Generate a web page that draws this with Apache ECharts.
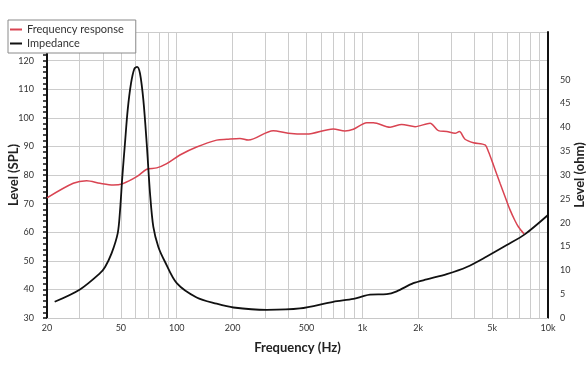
<!DOCTYPE html>
<html>
<head>
<meta charset="utf-8">
<script src="https://cdn.jsdelivr.net/npm/echarts@6/dist/echarts.min.js"></script>
<style>
html,body{margin:0;padding:0;background:#fff;}
#chart{width:588px;height:372px;}
</style>
</head>
<body>
<div id="chart"></div>
<script>
// Frequency response (SPL)
const frFreq = [20, 27.7, 32.7, 38.6, 45.5, 50.9, 60.9, 68.9, 78, 88.3, 104, 128, 164, 186, 219, 243, 331, 399, 501, 697, 806, 894, 1056, 1146, 1410, 1629, 1922, 2316, 2566, 2848, 3157, 3330, 3573, 3963, 4581, 4773, 5083, 5517, 5871, 6245, 6643, 6925, 7431];
const frLevel = [72, 77.1, 78, 77.1, 76.5, 76.9, 79.4, 82, 82.5, 84, 87, 89.8, 92.2, 92.5, 92.8, 92.2, 95.5, 94.6, 94.3, 96.1, 95.4, 96, 98.3, 98.3, 96.7, 97.7, 96.9, 98.1, 95.5, 95.2, 94.6, 95.2, 92.5, 91.3, 90.5, 88.2, 83.5, 77.1, 72.4, 67.8, 64, 61.9, 59.4];
// Impedance (ohm)
const zFreq = [22, 30.1, 38.6, 41.1, 44.6, 48.1, 49.5, 50.9, 52.6, 54.4, 56.7, 59.1, 61.1, 63.4, 66.1, 68.9, 71.8, 74.8, 79.6, 86.4, 100, 128, 164, 202, 305, 461, 697, 894, 1012, 1100, 1353, 1531, 1882, 2222, 2848, 3651, 4677, 5997, 7527, 10000];
const zOhm = [3.4, 6.0, 9.4, 10.7, 13.6, 17.8, 22.6, 29.6, 36.6, 43.6, 49.2, 52.3, 52.7, 51.3, 45.7, 36.6, 26.1, 19.1, 14.9, 11.8, 7.3, 4.3, 3.0, 2.2, 1.7, 2.0, 3.4, 4.0, 4.6, 4.9, 5.0, 5.6, 7.3, 8.1, 9.2, 10.7, 12.9, 15.3, 17.6, 21.6];
// Axis ticks / grid
const xTickLabels = [20, 50, 100, 200, 500, 1000, 2000, 5000, 10000];
const xGridFreqs = [30, 40, 50, 60, 70, 80, 90, 100, 200, 300, 400, 500, 600, 700, 800, 900, 1000, 2000, 3000, 4000, 5000, 6000, 7000, 8000, 9000];
const seriesNames = ['Frequency response', 'Impedance'];

const FONT = 'Lato, "Open Sans", sans-serif';
const fmtHz = v => v >= 1000 ? (v / 1000) + 'k' : String(v);

const chart = echarts.init(document.getElementById('chart'), null, {renderer: 'canvas'});
chart.setOption({
  animation: false,
  backgroundColor: '#ffffff',
  textStyle: {fontFamily: FONT},
  legend: {
    show: true,
    orient: 'vertical',
    left: 8, top: 20,
    backgroundColor: '#ffffff',
    borderColor: '#8a8a8a', borderWidth: 1,
    padding: [3, 12, 3, 2],
    itemGap: 1,
    itemWidth: 12, itemHeight: 2,
    icon: 'rect',
    textStyle: {fontFamily: FONT, fontSize: 11, color: '#333', lineHeight: 13},
    data: seriesNames,
    z: 10
  },
  grid: {left: 47, right: 40, top: 32, bottom: 54, containLabel: false, outerBoundsMode: 'none'},
  xAxis: {
    type: 'log', logBase: 10, min: 20, max: 10000,
    name: 'Frequency (Hz)', nameLocation: 'middle', nameGap: 23, nameMoveOverlap: false,
    nameTextStyle: {fontFamily: FONT, fontSize: 13, fontWeight: 'bold', color: '#222'},
    axisLine: {show: true, lineStyle: {color: '#c8c8c8', width: 1}},
    axisTick: {show: false},
    splitLine: {show: false},
    minorSplitLine: {show: false},
    axisLabel: {customValues: xTickLabels, formatter: fmtHz, fontSize: 9, color: '#333', margin: 6, fontFamily: FONT}
  },
  yAxis: [{
    type: 'value', min: 30, max: 130, interval: 10, position: 'left',
    name: 'Level (SPL)', nameLocation: 'middle', nameGap: 27, nameRotate: 90, nameMoveOverlap: false,
    nameTextStyle: {fontFamily: FONT, fontSize: 13, fontWeight: 'bold', color: '#222'},
    axisLine: {show: true, lineStyle: {color: '#111', width: 2}},
    axisTick: {show: true, length: 4, lineStyle: {color: '#111', width: 1.5}},
    minorTick: {show: true, splitNumber: 5, length: 4, lineStyle: {color: '#111', width: 1.5}},
    splitLine: {show: true, lineStyle: {color: '#cccccc', width: 1}},
    axisLabel: {formatter: v => v > 120 ? '' : v, fontSize: 9, color: '#333', margin: 13, fontFamily: FONT}
  }, {
    type: 'value', min: 0, max: 60, interval: 5, position: 'right',
    name: 'Level (ohm)', nameLocation: 'middle', nameGap: 25, nameRotate: 90, nameMoveOverlap: false,
    nameTextStyle: {fontFamily: FONT, fontSize: 13, fontWeight: 'bold', color: '#222'},
    axisLine: {show: true, lineStyle: {color: '#111', width: 2}},
    axisTick: {show: false},
    splitLine: {show: false},
    axisLabel: {formatter: v => v > 50 ? '' : v, fontSize: 9, color: '#333', margin: 12, fontFamily: FONT}
  }],
  series: [{
    name: 'grid', type: 'line', data: [], z: 1, silent: true,
    markLine: {
      silent: true, symbol: 'none', z: 1, animation: false,
      label: {show: false},
      lineStyle: {color: '#cccccc', width: 1, type: 'solid'},
      emphasis: {disabled: true},
      data: xGridFreqs.map(f => ({xAxis: f}))
    }
  }, {
    name: seriesNames[0], type: 'line', yAxisIndex: 0, z: 3,
    smooth: 0.3, showSymbol: false, symbol: 'none',
    color: '#d94452',
    lineStyle: {color: '#d94452', width: 1.5},
    data: frFreq.map((f, i) => [f, frLevel[i]])
  }, {
    name: seriesNames[1], type: 'line', yAxisIndex: 1, z: 3,
    smooth: 0.3, showSymbol: false, symbol: 'none',
    color: '#111111',
    lineStyle: {color: '#111111', width: 1.8},
    data: zFreq.map((f, i) => [f, zOhm[i]])
  }]
});
</script>
</body>
</html>
